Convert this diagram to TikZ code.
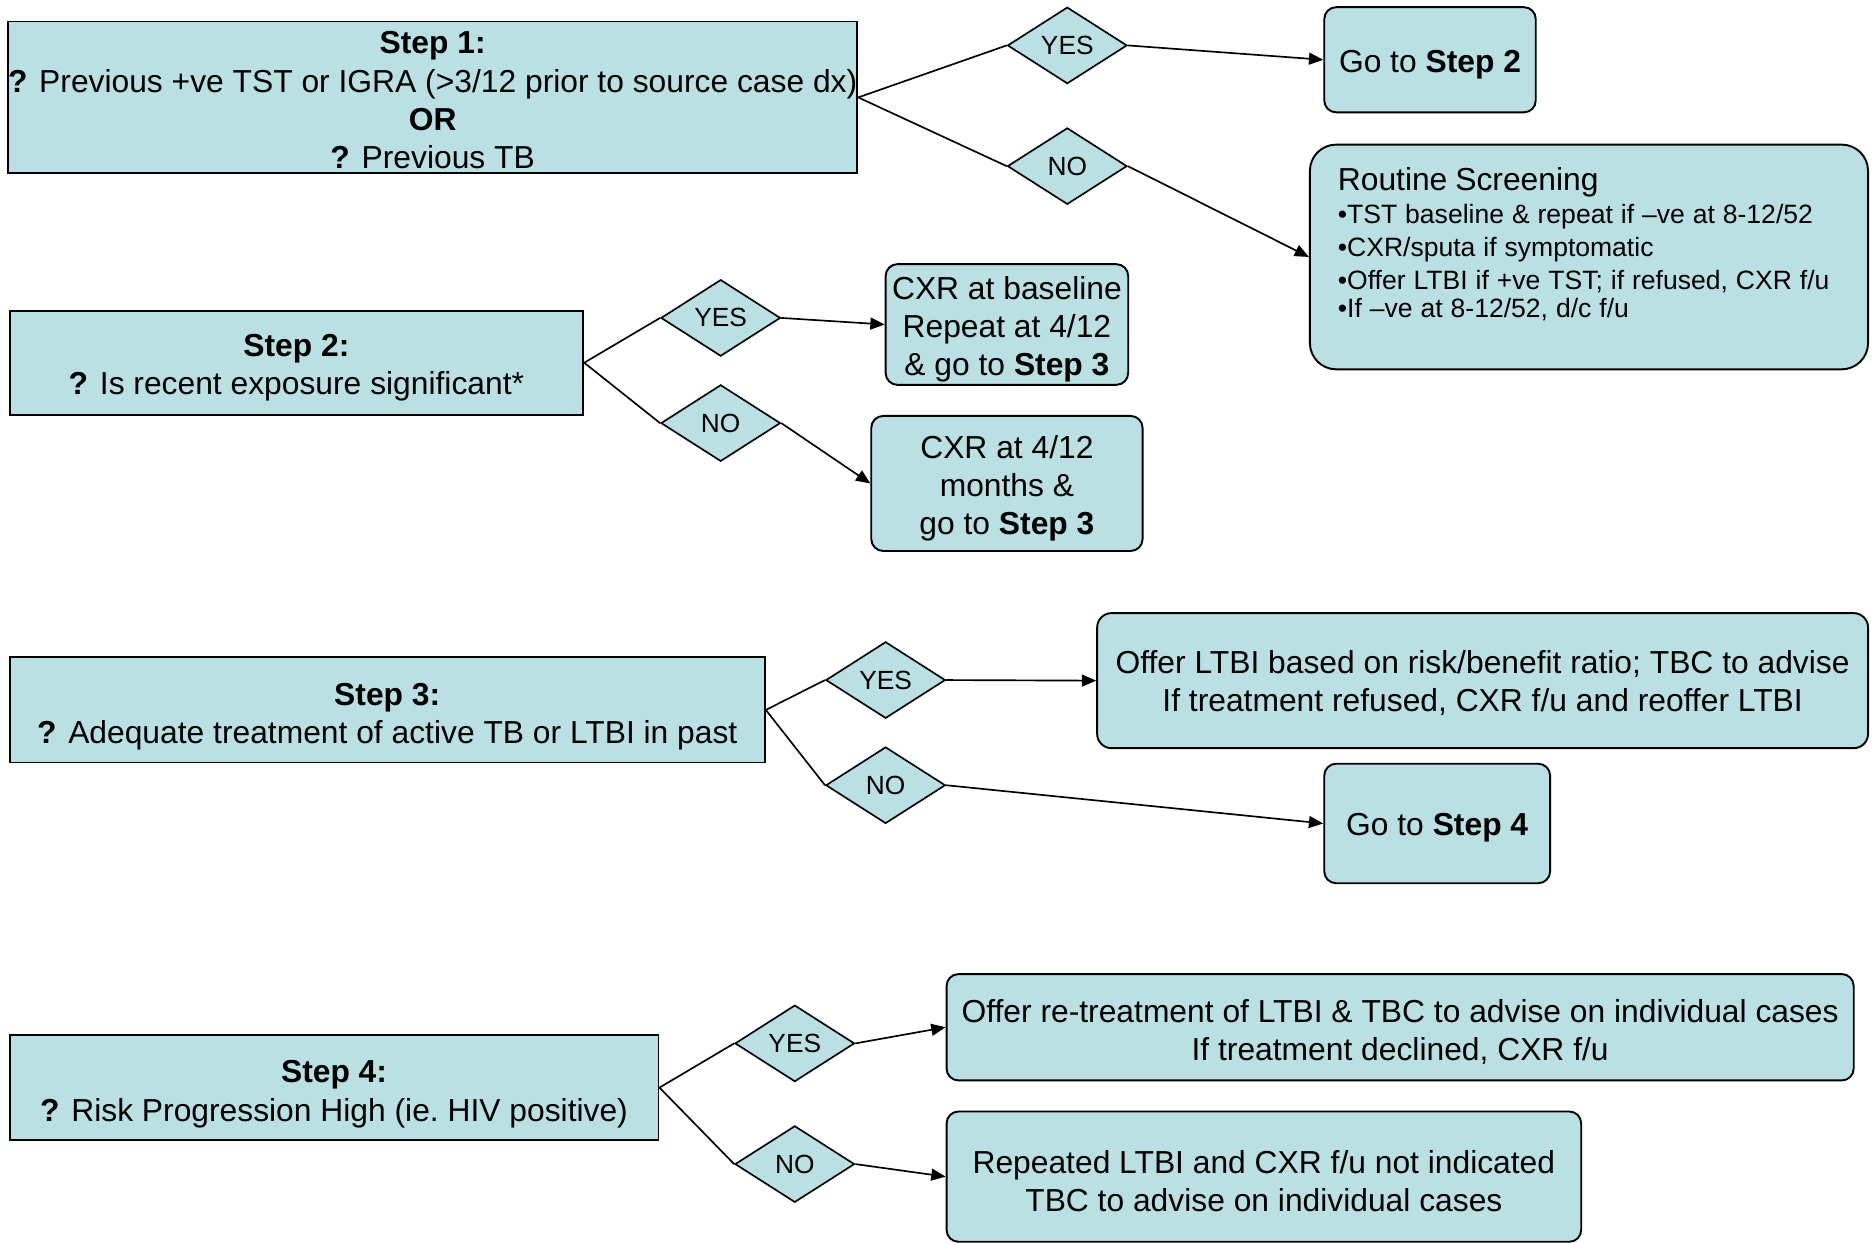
\documentclass[tikz,border=0pt]{standalone}
\usepackage{fontspec}
\setmainfont{Liberation Sans}
\usetikzlibrary{shapes.geometric,arrows.meta}
\definecolor{boxfill}{RGB}{187,224,227}
\newcommand\myst[1]{\rule{0pt}{#1pt}}
\tikzset{
  mainf/.style={font=\fontsize{13.3}{16}\selectfont},
  sq/.style={draw=black, line width=0.8pt, fill=boxfill, inner sep=0pt, align=center, mainf},
  rbox/.style={sq, rounded corners=#1},
  rbox/.default=5pt,
  dia/.style={diamond, draw=black, fill=boxfill, line width=0.7pt, minimum width=50pt, minimum height=32pt, inner sep=0pt, aspect=1.5625, font=\fontsize{11}{13}\selectfont},
  conn/.style={line width=0.7pt},
  arr/.style={conn, -{Triangle[length=6pt,width=5pt]}},
  sz/.style 2 args={minimum width=#1*0.5pt, minimum height=#2*0.5pt}
}
\begin{document}
\begin{tikzpicture}[x=0.5pt,y=-0.5pt]
\useasboundingbox[fill=white] (0,0) rectangle (1568,1040);

% Step 1
\node[sq, sz={708}{127}] (s1) at (362,81.5) {\myst{11.7}\textbf{Step 1:}\\ \textbf{?} Previous +ve TST or IGRA (>3/12 prior to source case dx)\\ \textbf{OR}\\ \textbf{?} Previous TB};
\node[dia] (y1) at (893,38) {YES};
\node[dia] (n1) at (893,139) {NO};
\node[rbox=5pt, sz={177}{88}] (g2) at (1196.5,50) {\myst{13}Go to \textbf{Step 2}};
\node[rbox=11pt, sz={467}{188}] (rs) at (1329.5,215) {};
\node[anchor=north west, inner sep=0pt, align=left, text width=215pt] (rst) at (1119,140) {{\fontsize{13.3}{16}\selectfont Routine Screening\par}\fontsize{11.1}{13.7}\selectfont •TST baseline \& repeat if –ve at 8-12/52\\ •CXR/sputa if symptomatic\\ •Offer LTBI if +ve TST; if refused, CXR f/u\\ •If –ve at 8-12/52, d/c f/u};

% Step 2
\node[sq, sz={480}{87}] (s2) at (248,303.5) {\myst{13.7}\textbf{Step 2:}\\ \textbf{?} Is recent exposure significant*};
\node[dia] (y2) at (603,266) {YES};
\node[dia] (n2) at (603,354) {NO};
\node[rbox=5pt, sz={203}{101}] (cb) at (842.5,271.5) {\myst{13.7}CXR at baseline\\ Repeat at 4/12\\ \& go to \textbf{Step 3}};
\node[rbox=5pt, sz={227}{113}] (c4) at (842.5,404.5) {\myst{13.7}CXR at 4/12\\ months \&\\ go to \textbf{Step 3}};

% Step 3
\node[sq, sz={632}{88}] (s3) at (324,594) {\myst{14.7}\textbf{Step 3:}\\ \textbf{?} Adequate treatment of active TB or LTBI in past};
\node[dia] (y3) at (741,569) {YES};
\node[dia] (n3) at (741,657) {NO};
\node[rbox=6pt, sz={645}{113}] (ol) at (1240.5,569.5) {\myst{11.7}Offer LTBI based on risk/benefit ratio; TBC to advise\\ If treatment refused, CXR f/u and reoffer LTBI};
\node[rbox=5pt, sz={189}{100}] (g4) at (1202.5,689) {\myst{13}Go to \textbf{Step 4}};

% Step 4
\node[sq, sz={543}{88}] (s4) at (279.5,910) {\myst{14.7}\textbf{Step 4:}\\ \textbf{?} Risk Progression High (ie.\ HIV positive)};
\node[dia] (y4) at (665,873) {YES};
\node[dia] (n4) at (665,974) {NO};
\node[rbox=5pt, sz={759}{89}] (ort) at (1171.5,859.5) {\myst{13.7}Offer re-treatment of LTBI \& TBC to advise on individual cases\\ If treatment declined, CXR f/u};
\node[rbox=5pt, sz={531}{109}] (rep) at (1057.5,984.5) {\myst{13.7}Repeated LTBI and CXR f/u not indicated\\ TBC to advise on individual cases};

% connectors
\draw[conn] (s1.east) -- (y1.west);
\draw[conn] (s1.east) -- (n1.west);
\draw[arr] (y1.east) -- (g2.west);
\draw[arr] (n1.east) -- (rs.west);

\draw[conn] (s2.east) -- (y2.west);
\draw[conn] (s2.east) -- (n2.west);
\draw[arr] (y2.east) -- (cb.west);
\draw[arr] (n2.east) -- (c4.west);

\draw[conn] (s3.east) -- (y3.west);
\draw[conn] (s3.east) -- (n3.west);
\draw[arr] (y3.east) -- (ol.west);
\draw[arr] (n3.east) -- (g4.west);

\draw[conn] (s4.east) -- (y4.west);
\draw[conn] (s4.east) -- (n4.west);
\draw[arr] (y4.east) -- (ort.west);
\draw[arr] (n4.east) -- (rep.west);
\end{tikzpicture}
\end{document}
